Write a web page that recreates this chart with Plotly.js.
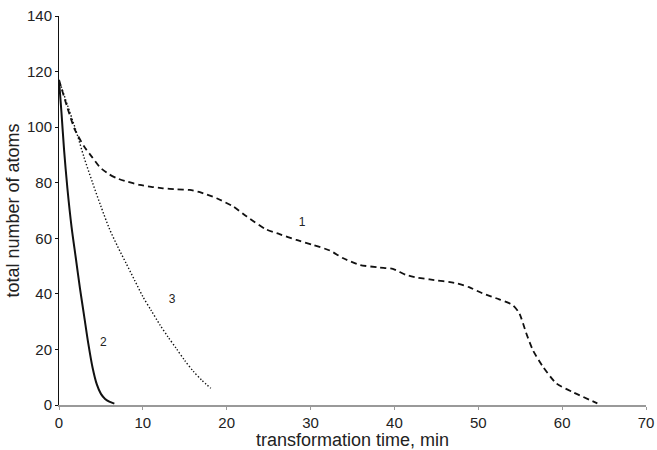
<!DOCTYPE html>
<html><head><meta charset="utf-8">
<script src="https://cdn.plot.ly/plotly-3.0.1.min.js"></script>
<style>html,body{margin:0;padding:0;background:#fff}#chart{width:657px;height:450px}</style>
</head><body><div id="chart"></div>
<script>
// Curve 1 (dashed)
const x1 = [0, 1, 1.9, 3, 3.9, 4.9, 6, 6.9, 8, 9.65, 11, 12.4, 14, 15.6, 16.8, 18.8, 20.8, 22.4, 24.7, 26.3, 28.3, 30.3, 32.3, 33.9, 35.9, 38.2, 39.8, 41.4, 42.8, 44.2, 47.4, 48.9, 50.5, 52.5, 54.1, 54.9, 55.7, 56.5, 57.7, 59.3, 61.3, 64.2];
const y1 = [117, 107, 99, 93, 89.4, 85.5, 83, 81.6, 80.5, 79.2, 78.5, 78, 77.6, 77.4, 76.6, 74.4, 71.4, 67.8, 63.2, 61.5, 59.4, 57.6, 55.6, 52.8, 50.4, 49.5, 49, 46.8, 45.8, 45.2, 43.8, 42.4, 40.2, 38, 36, 33, 26, 19.8, 13.8, 7.8, 4.6, 0.6];
// Curve 2 (solid)
const x2 = [0, 0.3, 0.6, 1.0, 1.5, 2.0, 2.5, 3.0, 3.5, 4.0, 4.5, 5.0, 5.5, 6.0, 6.6];
const y2 = [117, 105, 92, 78, 64, 53, 42, 32, 22, 13.5, 7.5, 4, 2.2, 1.2, 0.5];
// Curve 3 (dotted)
const x3 = [0, 1, 2, 3, 4, 5, 6, 7, 8, 9, 10, 11, 12, 13, 14, 15, 16, 17, 18.1];
const y3 = [117, 108, 99, 89, 80, 71.5, 63.5, 57, 51, 45, 39, 34, 29, 24.5, 20.3, 16, 12.2, 9, 6];
// Curve labels
const labelText = ['1', '2', '3'];
const labelX = [29.0, 5.3, 13.5];
const labelY = [65.6, 22.4, 37.8];

const FONT = 'Liberation Sans, Arial, Helvetica, sans-serif';
const traces = [
  {x: x1, y: y1, mode: 'lines', line: {color: '#111', width: 1.8, dash: '6px,4px', shape: 'spline', smoothing: 0.6}, hoverinfo: 'skip'},
  {x: x2, y: y2, mode: 'lines', line: {color: '#111', width: 2, shape: 'spline', smoothing: 0.8}, hoverinfo: 'skip'},
  {x: x3, y: y3, mode: 'lines', line: {color: '#111', width: 1.4, dash: '1.4px,2px', shape: 'spline', smoothing: 0.8}, hoverinfo: 'skip'},
  {x: labelX, y: labelY, mode: 'text', text: labelText, textfont: {family: FONT, size: 12, color: '#222'}, hoverinfo: 'skip'}
];

const layout = {
  width: 657, height: 450,
  margin: {l: 59, r: 10.5, t: 16, b: 45},
  paper_bgcolor: '#fff', plot_bgcolor: '#fff',
  showlegend: false,
  font: {family: FONT, color: '#222', size: 15},
  xaxis: {
    range: [0, 70], tickvals: [0,10,20,30,40,50,60,70],
    showgrid: false, zeroline: false,
    showline: true, linecolor: '#999', linewidth: 1.5,
    ticks: 'outside', ticklen: 3, tickcolor: '#999', tickwidth: 1,
    ticklabeloverflow: 'allow',
    tickfont: {size: 15, color: '#222'},
    title: {text: 'transformation time, min', font: {size: 18, color: '#222'}, standoff: 1}
  },
  yaxis: {
    range: [0, 140], tickvals: [0,20,40,60,80,100,120,140],
    showgrid: false, zeroline: false,
    showline: true, linecolor: '#111', linewidth: 1,
    ticks: 'outside', ticklen: 3, tickcolor: '#111', tickwidth: 1,
    tickfont: {size: 15, color: '#222'},
    title: {text: 'total number of atoms', font: {size: 18, color: '#222'}, standoff: 2}
  }
};

Plotly.newPlot('chart', traces, layout, {staticPlot: true, displayModeBar: false});
</script></body></html>
